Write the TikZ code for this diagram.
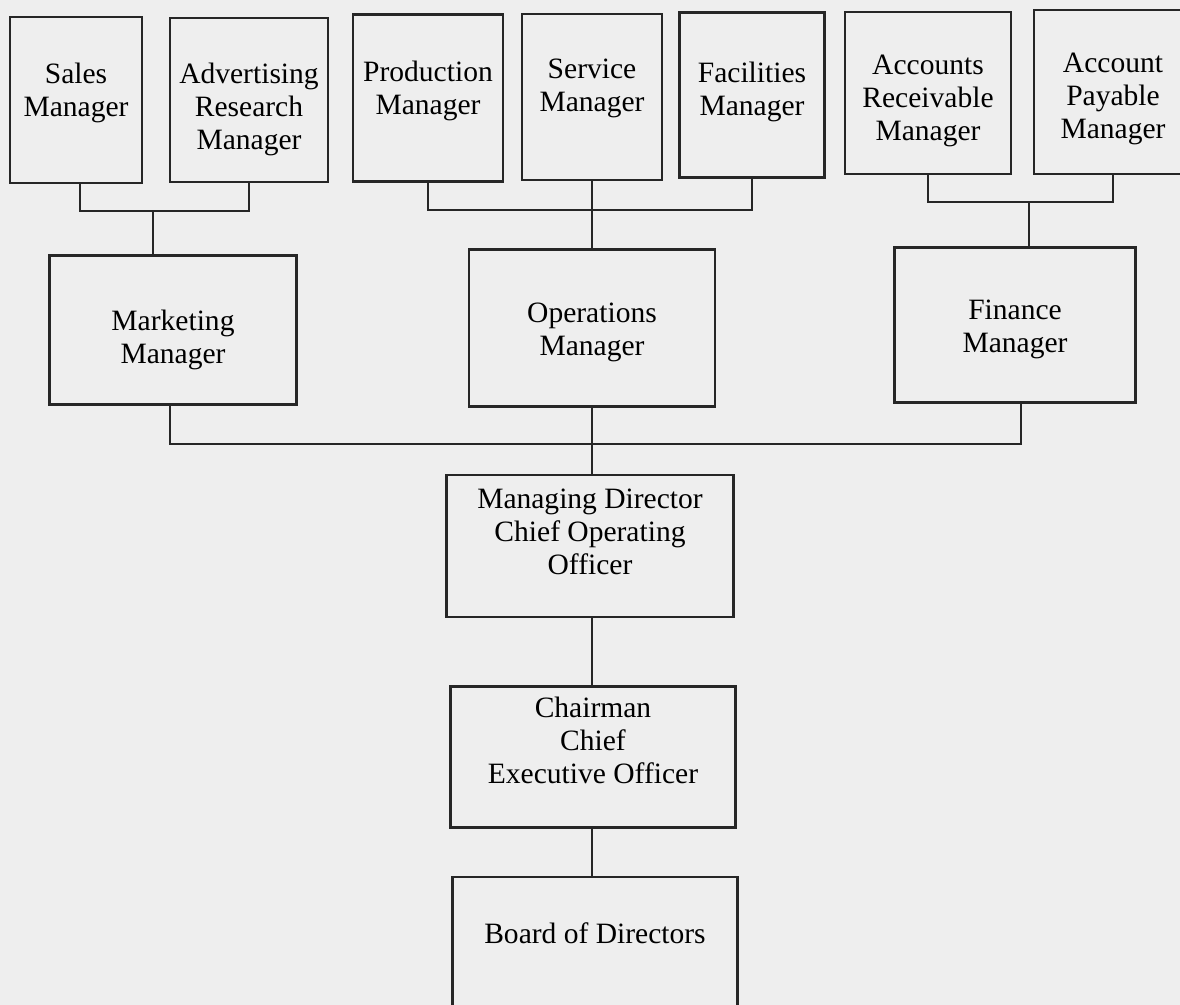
\documentclass[tikz,border=0pt]{standalone}
\usepackage{fontspec}
\setmainfont{Liberation Serif}
\usepackage{xcolor}
\definecolor{paper}{HTML}{EEEEEE}
\definecolor{ink}{HTML}{262626}
\newcommand{\boxtext}[2]{\raisebox{#1}[0pt][0pt]{\begin{tabular}[t]{@{}c@{}}#2\end{tabular}}}

\begin{document}
\begin{tikzpicture}[x=0.025cm,y=-0.025cm,
  post/.style={draw=ink,line width=1.5pt,inner sep=0pt,font=\fontsize{21}{23.5}\selectfont},
  link/.style={draw=ink,line width=1.3pt}]
  \useasboundingbox (0,0) rectangle (1180,1005);
  \clip (0,0) rectangle (1180,1005);
  \fill[paper] (0,0) rectangle (1180,1005);
  % top row
  \node[post,minimum width=3.3cm,minimum height=4.15cm] (sales) at (76,100){\boxtext{12pt}{Sales\\Manager}};
  \node[post,minimum width=3.95cm,minimum height=4.1cm] (adv) at (249,100){\boxtext{12pt}{Advertising\\Research\\Manager}};
  \node[post,minimum width=3.75cm,minimum height=4.175cm] (prod) at (428,98){\boxtext{12pt}{Production\\Manager}};
  \node[post,minimum width=3.5cm,minimum height=4.15cm] (serv) at (592,97){\boxtext{13pt}{Service\\Manager}};
  \node[post,minimum width=3.625cm,minimum height=4.125cm] (fac) at (752,95){\boxtext{9pt}{Facilities\\Manager}};
  \node[post,minimum width=4.15cm,minimum height=4.05cm] (recv) at (928,93){\boxtext{13pt}{Accounts\\Receivable\\Manager}};
  \node[post,minimum width=3.95cm,minimum height=4.1cm] (pay) at (1113,92){\boxtext{14pt}{Account\\Payable\\Manager}};
  % middle row
  \node[post,minimum width=6.175cm,minimum height=3.725cm] (mkt) at (173,330){\boxtext{0pt}{Marketing\\Manager}};
  \node[post,minimum width=6.15cm,minimum height=3.925cm] (ops) at (592,328){\boxtext{4pt}{Operations\\Manager}};
  \node[post,minimum width=6.025cm,minimum height=3.875cm] (fin) at (1015,325){\boxtext{4pt}{Finance\\Manager}};
  % top of the chain
  \node[post,minimum width=7.175cm,minimum height=3.55cm] (md) at (590,546){\boxtext{27pt}{Managing Director\\Chief Operating\\Officer}};
  \node[post,minimum width=7.125cm,minimum height=3.525cm] (chair) at (593,757){\boxtext{28pt}{Chairman\\Chief\\Executive Officer}};
  \node[post,minimum width=7.125cm,minimum height=3.55cm] (board) at (595,948){\boxtext{3pt}{Board of Directors}};
  % brackets
  \coordinate (mktbar) at (153,211);
  \coordinate (opsbar) at (592,210);
  \coordinate (finbar) at (1029,202);
  \coordinate (mainbar) at (592,444);
  \draw[link] (sales.south) ++(4,0) |- (mktbar) -| (adv.south);
  \draw[link] (mktbar) -- (mktbar |- mkt.north);
  \draw[link] (prod.south) |- (opsbar) -| (fac.south);
  \draw[link] (serv.south) -- (opsbar |- ops.north);
  \draw[link] (recv.south) |- (finbar) -| (pay.south);
  \draw[link] (finbar) -- (finbar |- fin.north);
  \draw[link] (mkt.south) ++(-3,0) |- (mainbar) -| ([xshift=4]fin.south);
  \draw[link] (mainbar |- ops.south) -- (mainbar |- md.north);
  \draw[link] (mainbar |- md.south) -- (mainbar |- chair.north);
  \draw[link] (mainbar |- chair.south) -- (mainbar |- board.north);
\end{tikzpicture}
\end{document}
